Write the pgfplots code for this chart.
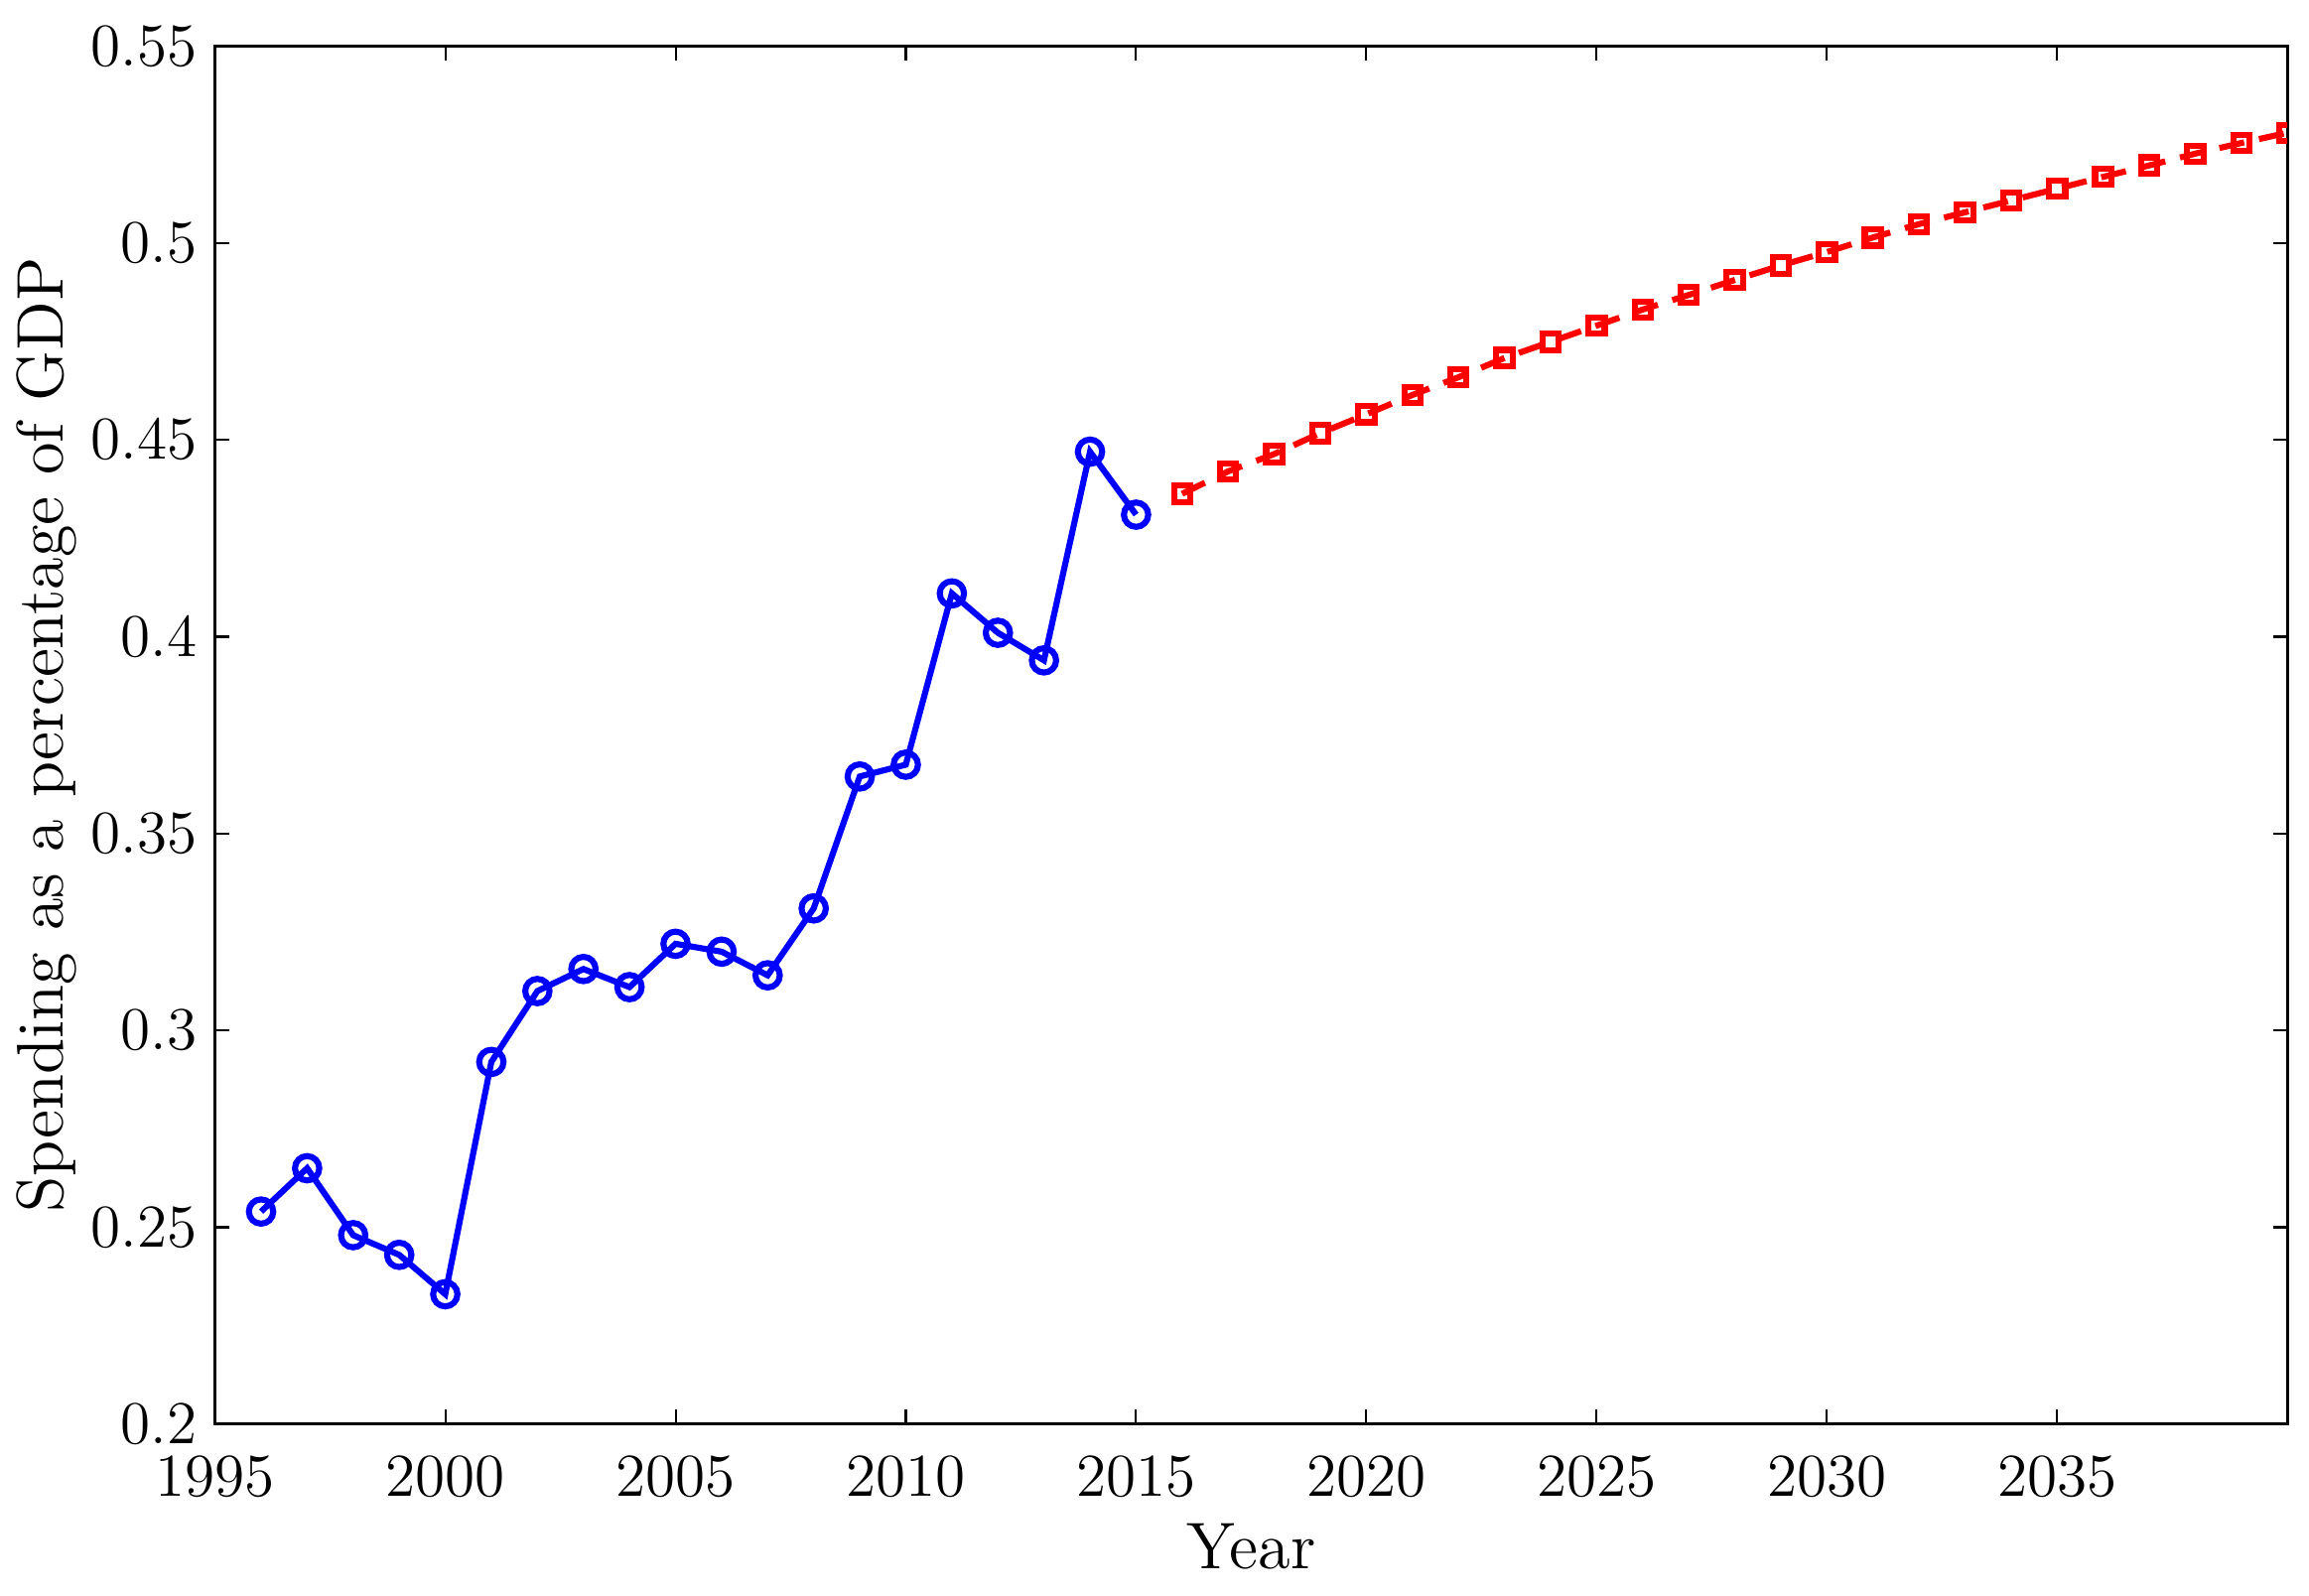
\documentclass[border=0pt]{standalone}
\usepackage{pgfplots}
\pgfplotsset{compat=1.18}
\begin{document}
\begin{tikzpicture}
\begin{axis}[
  scale only axis,
  width=14.36cm, height=9.55cm,
  xmin=1995, xmax=2040, ymin=0.2, ymax=0.55,
  xtick={1995,2000,...,2035},
  ytick={0.2,0.25,...,0.55},
  xticklabel style={/pgf/number format/1000 sep={}, yshift=-3pt},
  yticklabel style={/pgf/number format/fixed,/pgf/number format/precision=2},
  tick label style={font=\fontsize{11.5}{13}\selectfont},
  label style={font=\fontsize{13}{16}\selectfont},
  major tick length=0.1cm,
  tick style={black, line width=0.4pt},
  axis line style={black, line width=0.6pt},
  xlabel={Year},
  ylabel={Spending as a percentage of GDP},
  xlabel style={yshift=1.5pt},
  ylabel style={yshift=-4pt},
  clip marker paths=true,
]
\addplot[blue, line width=1.2pt, mark=o, mark size=2.4pt, mark options={solid}] coordinates {
(1996,0.254) (1997,0.265) (1998,0.248) (1999,0.243) (2000,0.233)
(2001,0.292) (2002,0.310) (2003,0.3156) (2004,0.311) (2005,0.322)
(2006,0.320) (2007,0.314) (2008,0.331) (2009,0.3645) (2010,0.3675)
(2011,0.411) (2012,0.401) (2013,0.394) (2014,0.447) (2015,0.431)
};
\addplot[red, line width=1.2pt, dash pattern=on 5pt off 3pt, mark=square, mark size=1.6pt, mark options={solid}] coordinates {
(2016,0.4363) (2017,0.442) (2018,0.4464) (2019,0.4517) (2020,0.4565)
(2021,0.4614) (2022,0.4659) (2023,0.4708) (2024,0.4749) (2025,0.479)
(2026,0.4831) (2027,0.4868) (2028,0.4906) (2029,0.4943) (2030,0.4977)
(2031,0.5014) (2032,0.5048) (2033,0.5078) (2034,0.5108) (2035,0.5138)
(2036,0.5168) (2037,0.5197) (2038,0.5227) (2039,0.5254) (2040,0.528)
};
\end{axis}
\pgfresetboundingbox
\path (current axis.south west) ++(-1.49cm,-1.19cm) rectangle ([xshift=0.15cm,yshift=0.32cm]current axis.north east);
\end{tikzpicture}
\end{document}
